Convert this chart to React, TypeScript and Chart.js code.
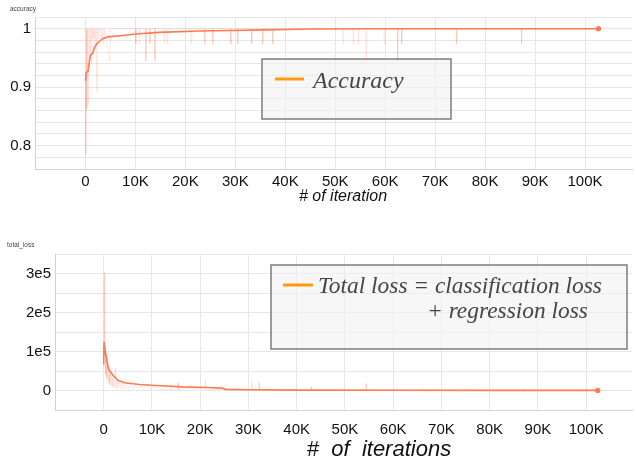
import React, { useEffect, useRef } from 'react';
import { Chart, registerables } from 'chart.js';

Chart.register(...registerables);

// ---------------- data ----------------
const xTickValues = [0, 10000, 20000, 30000, 40000, 50000, 60000, 70000, 80000, 90000, 100000];
const xTickLabels = ['0', '10K', '20K', '30K', '40K', '50K', '60K', '70K', '80K', '90K', '100K'];

const accTickValues = [0.8, 0.9, 1];
const accTickLabels = ['0.8', '0.9', '1'];

const lossTickValues = [0, 100000, 200000, 300000];
const lossTickLabels = ['0', '1e5', '2e5', '3e5'];

// accuracy, smoothed
const accSmoothSteps = [0, 150, 500, 1000, 1450, 1800, 2450, 3450, 4500, 7000, 10100, 14700, 22700, 29000, 36000, 40000, 45000, 60000, 80000, 102700];
const accSmoothValues = [0.911, 0.925, 0.927, 0.955, 0.958, 0.968, 0.976, 0.983, 0.986, 0.988, 0.991, 0.9937, 0.996, 0.997, 0.998, 0.9985, 0.9995, 1.0, 1.0, 1.0];

// accuracy, raw
const accRawSteps = [
  0, 80, 160, 260, 360, 560, 660, 900, 1000, 1200, 1300, 1400, 1500, 1700, 1800, 2000, 2100, 2300, 2400, 2700, 2800,
  3200, 3300, 3600, 3700, 4900, 5000, 5100,
  10000, 10100, 10200, 10700, 10800, 10900, 12000, 12100, 12200, 12800, 12900, 13000, 13800, 13900, 14000,
  15700, 15800, 15900, 16300, 16400, 16500, 21100, 21200, 21300, 23800, 23900, 24000, 25400, 25500, 25600,
  29000, 29100, 29200, 30400, 30500, 30600, 33200, 33300, 33400, 35400, 35500, 35600, 37400, 37500, 37600,
  51500, 51600, 51700, 53500, 53600, 53700, 54500, 54600, 54700, 56100, 56200, 56300, 59700, 59800, 59900,
  62400, 62500, 62600, 63200, 63300, 63400, 74200, 74300, 74400, 87200, 87300, 87400, 102700,
];
const accRawValues = [
  0.92, 0.785, 1.0, 0.862, 1.0, 0.87, 1.0, 0.96, 1.0, 0.94, 1.0, 0.983, 1.0, 0.983, 1.0, 0.965, 1.0, 0.892, 1.0, 0.983, 1.0,
  0.983, 1.0, 0.975, 1.0, 0.945, 1.0, 1.0,
  1.0, 0.974, 1.0, 1.0, 0.974, 1.0, 1.0, 0.945, 1.0, 1.0, 0.974, 1.0, 1.0, 0.945, 1.0,
  1.0, 0.974, 1.0, 1.0, 0.974, 1.0, 1.0, 0.974, 1.0, 1.0, 0.974, 1.0, 1.0, 0.974, 1.0,
  1.0, 0.974, 1.0, 1.0, 0.974, 1.0, 1.0, 0.974, 1.0, 1.0, 0.974, 1.0, 1.0, 0.974, 1.0,
  1.0, 0.974, 1.0, 1.0, 0.974, 1.0, 1.0, 0.974, 1.0, 1.0, 0.945, 1.0, 1.0, 0.974, 1.0,
  1.0, 0.945, 1.0, 1.0, 0.974, 1.0, 1.0, 0.974, 1.0, 1.0, 0.974, 1.0, 1.0,
];

// total loss, smoothed
const lossSmoothSteps = [0, 60, 350, 680, 1030, 1580, 2060, 2950, 4320, 7400, 10800, 16300, 21500, 24500, 25300, 30000, 40000, 60000, 80000, 102400];
const lossSmoothValues = [66700, 125000, 97000, 75000, 54000, 45000, 37000, 26000, 20000, 15400, 12800, 9400, 7700, 6000, 3000, 2000, 1000, 500, 300, 200];

// total loss, raw
const lossRawSteps = [
  0, 100, 200, 300, 400, 500, 650, 800, 950, 1100, 1250, 1400, 1550, 1700, 1850, 2000, 2200, 2450, 2600, 2800, 3000,
  3300, 3600, 3900, 4200, 4600, 5000, 5500, 6000, 6600, 7200, 7800, 8500, 9200, 10000, 11000, 12000,
  13800, 13900, 14000, 15300, 15400, 15500, 18000, 21000, 21100, 21200, 25000,
  30600, 30700, 30800, 32100, 32200, 32300, 42900, 43000, 43100, 54300, 54400, 54500,
  66000, 66100, 66200, 87000, 87100, 87200, 102400,
];
const lossRawValues = [
  60000, 302000, 90000, 105000, 40000, 95000, 30000, 75000, 20000, 55000, 15000, 50000, 12000, 40000, 10000, 35000, 8000, 58000, 6000, 30000, 5000,
  25000, 4000, 20000, 4000, 18000, 3000, 15000, 3000, 14000, 3000, 12000, 2000, 10000, 2000, 8000, 2000,
  3000, 18000, 3000, 3000, 20000, 3000, 7000, 3000, 26000, 3000, 4000,
  1000, 25000, 1000, 1000, 20000, 1000, 500, 10000, 500, 500, 18000, 500,
  500, 6000, 500, 400, 6000, 400, 200,
];

const accLegendLines = ['Accuracy'];
const lossLegendLines = ['Total loss = classification loss', '+ regression loss'];

// ---------------- helpers ----------------
const SANS = '"Liberation Sans", Arial, Helvetica, sans-serif';
const SERIF = '"Liberation Serif", "Times New Roman", serif';
const LINE = '#ff7a52';
const RAW = 'rgba(255, 120, 85, 0.16)';
const GRID = '#e7e7e7';

const toPoints = (xs: number[], ys: number[]) => xs.map((x, i) => ({ x, y: ys[i] }));

const overlayPlugin = {
  id: 'overlay',
  afterDraw(chart: any, _args: any, opts: any) {
    const ctx = chart.ctx as CanvasRenderingContext2D;
    ctx.save();
    if (opts.title) {
      ctx.font = `${opts.title.size}px ${SANS}`;
      ctx.fillStyle = '#444';
      ctx.textAlign = 'left';
      ctx.textBaseline = 'middle';
      ctx.fillText(opts.title.text, opts.title.x, opts.title.y);
    }
    if (opts.axisTitle) {
      ctx.font = `italic ${opts.axisTitle.size}px ${SANS}`;
      ctx.fillStyle = '#111';
      ctx.textAlign = 'center';
      ctx.textBaseline = 'middle';
      ctx.fillText(opts.axisTitle.text, opts.axisTitle.x, opts.axisTitle.y);
    }
    if (opts.legend) {
      const L = opts.legend;
      ctx.fillStyle = 'rgba(242, 242, 242, 0.6)';
      ctx.fillRect(L.x, L.y, L.w, L.h);
      ctx.strokeStyle = '#7c7c7c';
      ctx.lineWidth = 1.5;
      ctx.strokeRect(L.x, L.y, L.w, L.h);
      ctx.strokeStyle = '#ff9a10';
      ctx.lineWidth = 3;
      ctx.beginPath();
      ctx.moveTo(L.sx1, L.sy);
      ctx.lineTo(L.sx2, L.sy);
      ctx.stroke();
      ctx.font = `italic ${L.size}px ${SERIF}`;
      ctx.fillStyle = '#454545';
      ctx.textAlign = 'left';
      ctx.textBaseline = 'alphabetic';
      L.lines.forEach((t: string, i: number) => {
        ctx.fillText(t, L.tx[i], L.ty[i]);
      });
    }
    ctx.restore();
  },
};

function makeConfig(opts: {
  smooth: { x: number; y: number }[];
  raw: { x: number; y: number }[];
  label: string;
  xmin: number;
  xmax: number;
  ymin: number;
  ymax: number;
  ystep: number;
  yTickValues: number[];
  yTickLabels: string[];
  yWidth: number;
  xHeight: number;
  padTop: number;
  xPad: number;
  overlay: any;
}) {
  const lastIdx = opts.smooth.length - 1;
  return {
    type: 'line' as const,
    data: {
      datasets: [
        {
          label: opts.label,
          data: opts.smooth,
          borderColor: LINE,
          backgroundColor: LINE,
          borderWidth: 1.6,
          tension: 0,
          pointRadius: (c: any) => (c.dataIndex === lastIdx ? 2.6 : 0),
          pointBorderWidth: 0,
        },
        {
          label: opts.label + ' (raw)',
          data: opts.raw,
          borderColor: RAW,
          borderWidth: 1,
          tension: 0,
          pointRadius: 0,
        },
      ],
    },
    options: {
      animation: false,
      responsive: false,
      devicePixelRatio: 1,
      layout: { padding: { top: opts.padTop, left: 0, right: 0, bottom: 0 } },
      plugins: {
        legend: { display: false },
        tooltip: { enabled: false },
        overlay: opts.overlay,
      },
      scales: {
        x: {
          type: 'linear',
          min: opts.xmin,
          max: opts.xmax,
          afterBuildTicks: (s: any) => {
            s.ticks = xTickValues.map((value) => ({ value }));
          },
          afterFit: (s: any) => {
            s.height = opts.xHeight;
          },
          ticks: {
            autoSkip: false,
            maxRotation: 0,
            padding: opts.xPad,
            color: '#111',
            font: { size: 15, family: SANS },
            callback: (v: any) => {
              const i = xTickValues.indexOf(Number(v));
              return i >= 0 ? xTickLabels[i] : '';
            },
          },
          grid: { color: GRID, drawTicks: false },
          border: { color: '#d2d2d2' },
        },
        y: {
          type: 'linear',
          min: opts.ymin,
          max: opts.ymax,
          afterFit: (s: any) => {
            s.width = opts.yWidth;
          },
          ticks: {
            stepSize: opts.ystep,
            autoSkip: false,
            padding: 4,
            color: '#111',
            font: { size: 15, family: SANS },
            callback: (v: any) => {
              const i = opts.yTickValues.findIndex((t) => Math.abs(t - Number(v)) < opts.ystep / 1000);
              return i >= 0 ? opts.yTickLabels[i] : '';
            },
          },
          grid: { color: GRID, drawTicks: false },
          border: { color: '#d2d2d2' },
        },
      },
    },
    plugins: [overlayPlugin],
  };
}

export default function App() {
  const accRef = useRef<HTMLCanvasElement | null>(null);
  const lossRef = useRef<HTMLCanvasElement | null>(null);

  useEffect(() => {
    const accChart = new Chart(
      accRef.current as HTMLCanvasElement,
      makeConfig({
        smooth: toPoints(accSmoothSteps, accSmoothValues),
        raw: toPoints(accRawSteps, accRawValues),
        label: 'Accuracy',
        xmin: -10100,
        xmax: 109400,
        ymin: 0.76,
        ymax: 1.02,
        ystep: 0.02,
        yTickValues: accTickValues,
        yTickLabels: accTickLabels,
        yWidth: 35,
        xHeight: 41,
        padTop: 17,
        xPad: 4,
        overlay: {
          title: { text: 'accuracy', x: 10, y: 9.5, size: 6.5 },
          axisTitle: { text: '# of iteration', x: 343, y: 197, size: 16 },
          legend: {
            x: 262, y: 59, w: 189, h: 60,
            sx1: 275, sx2: 304, sy: 79,
            size: 24,
            lines: accLegendLines,
            tx: [313], ty: [87.5],
          },
        },
      }) as any
    );
    const lossChart = new Chart(
      lossRef.current as HTMLCanvasElement,
      makeConfig({
        smooth: toPoints(lossSmoothSteps, lossSmoothValues),
        raw: toPoints(lossRawSteps, lossRawValues),
        label: 'total_loss',
        xmin: -10100,
        xmax: 109500,
        ymin: -50000,
        ymax: 350000,
        ystep: 50000,
        yTickValues: lossTickValues,
        yTickLabels: lossTickLabels,
        yWidth: 55,
        xHeight: 54,
        padTop: 24,
        xPad: 11,
        overlay: {
          title: { text: 'total_loss', x: 7, y: 15.3, size: 6.5 },
          axisTitle: { text: '#  of  iterations', x: 379, y: 220, size: 22 },
          legend: {
            x: 271, y: 35, w: 356, h: 84,
            sx1: 283, sx2: 313, sy: 55,
            size: 23.4,
            lines: lossLegendLines,
            tx: [318, 427], ty: [63.3, 88.3],
          },
        },
      }) as any
    );
    return () => {
      accChart.destroy();
      lossChart.destroy();
    };
  }, []);

  return (
    <div style={{ position: 'absolute', left: 0, top: 0, width: 636, height: 464, background: '#fff', overflow: 'hidden' }}>
      <canvas ref={accRef} width={636} height={210} style={{ position: 'absolute', left: 0, top: 0, display: 'block' }} />
      <canvas ref={lossRef} width={636} height={234} style={{ position: 'absolute', left: 0, top: 230, display: 'block' }} />
    </div>
  );
}
